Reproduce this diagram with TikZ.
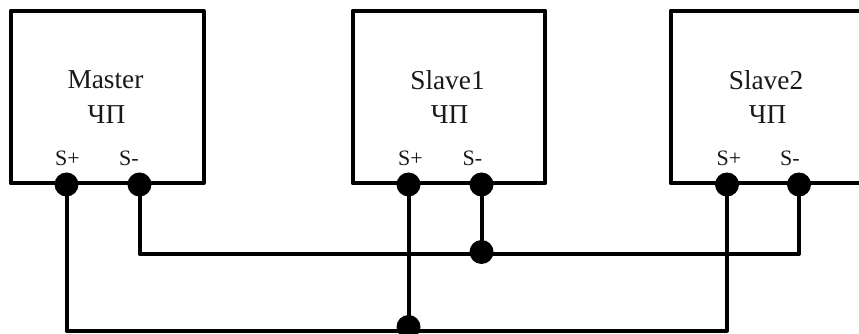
\documentclass[tikz,border=0pt]{standalone}
\usepackage{fontspec}
\setmainfont{Liberation Serif}
\tikzset{
  devbox/.style={draw=black,line width=3pt,fill=white,inner sep=0pt,minimum height=129.5pt,line join=round},
  junction/.style={circle,fill=black,inner sep=0pt,minimum size=18pt},
  wire/.style={draw=black,line width=3pt,line join=round},
  title/.style={inner sep=0pt,font=\fontsize{20.5pt}{24pt}\selectfont,text=black!90,align=center},
  port/.style={inner sep=0pt,font=\fontsize{16.5pt}{19pt}\selectfont,text=black!90}
}
\begin{document}
\begin{tikzpicture}[x=0.75pt,y=-0.75pt]
\useasboundingbox (0,0) rectangle (859,334);
\clip (0,0) rectangle (859,334);
\fill[white] (0,0) rectangle (859,334);
% devices
\node[devbox,minimum width=144.75pt] (master) at (107,97) {};
\node[devbox,minimum width=144.5pt] (slavea) at (449,97) {};
\node[devbox,minimum width=156.5pt] (slaveb) at (775,97) {};
% titles
\node[title] (tm) at (105.5,80) {Master};
\node[title] (tmc) at (106.5,115) {ЧП};
\node[title] (ta) at (447.5,80) {Slave1};
\node[title] (tac) at (449.5,115) {ЧП};
\node[title] (tb) at (766,80) {Slave2};
\node[title] (tbc) at (767.5,115) {ЧП};
% port labels
\node[port] (lmp) at (67.5,158.5) {S+};
\node[port] (lmn) at (129,158.5) {S-};
\node[port] (lap) at (410.5,158.5) {S+};
\node[port] (lan) at (472.5,158.5) {S-};
\node[port] (lbp) at (729,158.5) {S+};
\node[port] (lbn) at (790,158.5) {S-};
% junctions
\node[junction] (mp) at (66.5,184.5) {};
\node[junction] (mn) at (139.5,184.5) {};
\node[junction] (ap) at (408.5,184.5) {};
\node[junction] (an) at (481.5,184.5) {};
\node[junction] (bp) at (727,184.5) {};
\node[junction] (bn) at (799,184.5) {};
\node[junction] (jn) at (481.5,252) {};
\node[junction] (jp) at (408.5,327) {};
\coordinate (nbus) at (0,254);
\coordinate (pbus) at (0,330.5);
% wires
\draw[wire] (mn.center) -- (mn.center |- nbus) -- (bn.center |- nbus) -- (bn.center);
\draw[wire] (mp.center) -- (mp.center |- pbus) -- (bp.center |- pbus) -- (bp.center);
\draw[wire] (an.center) -- (jn.center);
\draw[wire] (ap.center) -- (jp.center);
\end{tikzpicture}
\end{document}
